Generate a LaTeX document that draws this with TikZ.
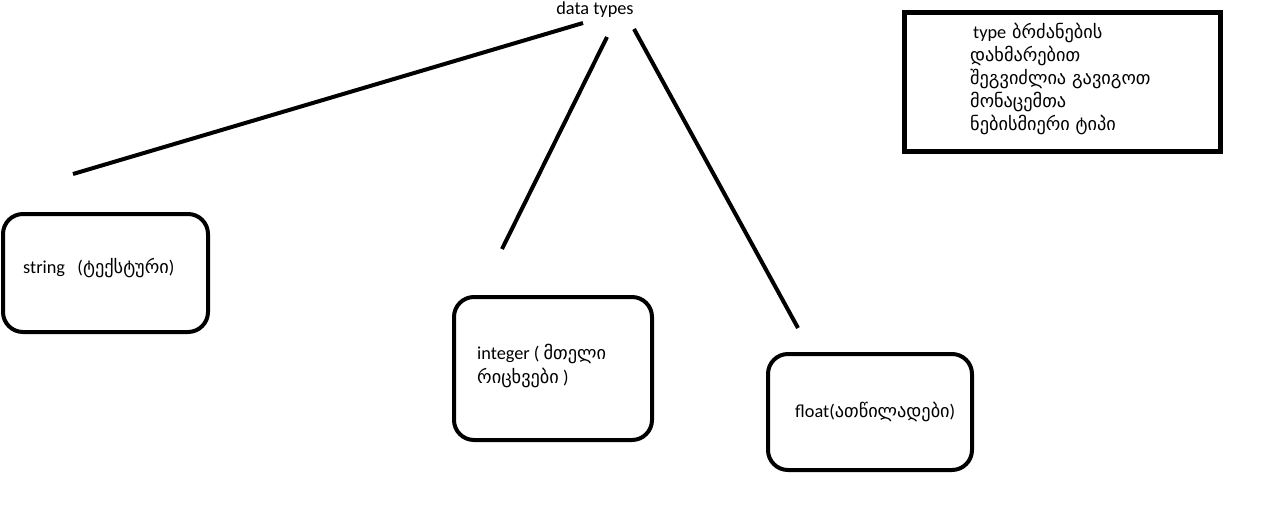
\documentclass[tikz,border=0pt]{standalone}
\usepackage{fontspec}
\setmainfont{Carlito}
\newfontfamily\geo{DejaVu Sans}
\tikzset{
  dbox/.style={draw=black, line width=4pt, rounded corners=20pt},
  infobox/.style={draw=black, line width=5pt},
  conn/.style={draw=black, line width=4pt},
  lbl/.style={anchor=west, inner sep=0pt, align=left, font=\fontsize{18.3}{24.5}\selectfont},
}
\newcommand{\ka}[1]{{\geo\fontsize{18.3}{23}\selectfont #1}}
\begin{document}
\begin{tikzpicture}[x=1pt,y=-1pt]
\useasboundingbox[fill=white] (0,0) rectangle (1270,523);
% boxes
\draw[dbox] (3,214) rectangle (208,332);
\draw[dbox] (454,297) rectangle (652,440);
\draw[dbox] (768,354) rectangle (972,470);
\draw[infobox] (904,12) rectangle (1220,151);
% texts
\node[anchor=center, inner sep=0pt, font=\fontsize{18.3}{20}\selectfont] (title) at (595,10) {data types};
\node[lbl] (s) at (23,268) {string\ \ \ (\ka{ტექსტური})};
\node[lbl] (i) at (477,366) {integer ( \ka{მთელი}\\\ka{რიცხვები} )};
\node[lbl] (f) at (795,412) {float(\ka{ათწილადები})};
\node[lbl, font=\geo\fontsize{18.3}{23}\selectfont] (n) at (970,79) {\hspace*{3pt}{\fontspec{Carlito}\fontsize{18.3}{23}\selectfont type} ბრძანების\\დახმარებით\\შეგვიძლია გავიგოთ\\მონაცემთა\\ნებისმიერი ტიპი};
% connectors
\coordinate (a1) at (583,23); \coordinate (a2) at (73,174);
\coordinate (b1) at (607,37); \coordinate (b2) at (502,249);
\coordinate (c1) at (634,29); \coordinate (c2) at (798,328);
\draw[conn] (a1) -- (a2);
\draw[conn] (b1) -- (b2);
\draw[conn] (c1) -- (c2);
\end{tikzpicture}
\end{document}
